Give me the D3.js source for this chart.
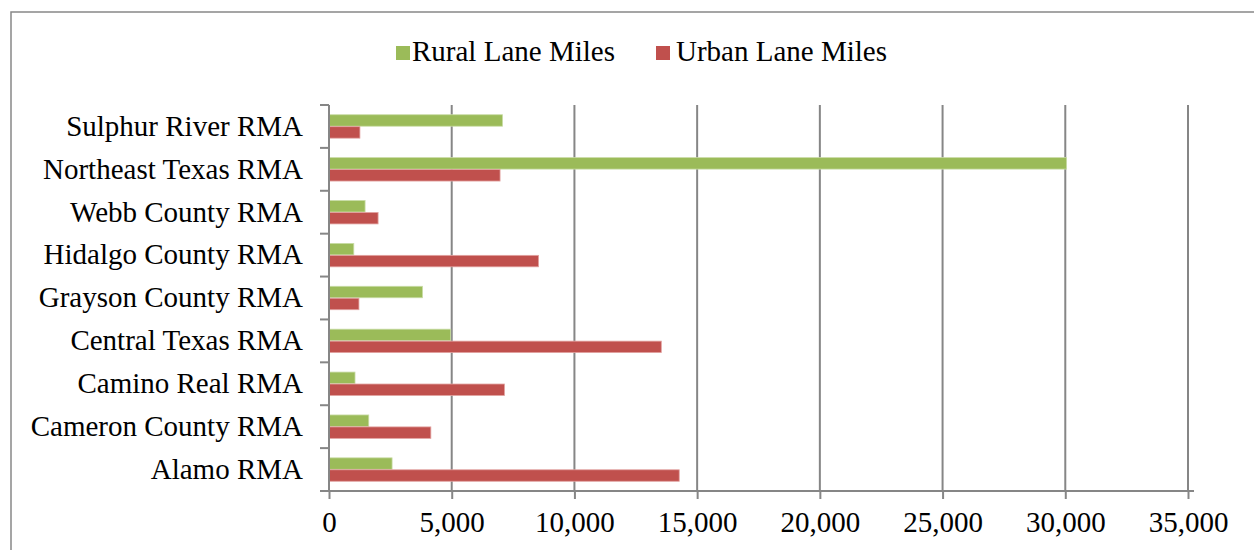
<!DOCTYPE html>
<html>
<head>
<meta charset="utf-8">
<script src="https://cdn.jsdelivr.net/npm/d3@7"></script>
<style>
  html, body { margin: 0; padding: 0; background: #fff; }
  svg { display: block; }
  text { font-family: "Liberation Serif", "Times New Roman", serif; fill: #000; }
</style>
</head>
<body>
<svg id="chart" width="1254" height="550"></svg>
<script>
const categories = ["Sulphur River RMA", "Northeast Texas RMA", "Webb County RMA", "Hidalgo County RMA",
  "Grayson County RMA", "Central Texas RMA", "Camino Real RMA", "Cameron County RMA", "Alamo RMA"];
const ruralLaneMiles = [7070, 30050, 1470, 1010, 3810, 4960, 1060, 1620, 2570];
const urbanLaneMiles = [1260, 6970, 2000, 8540, 1220, 13540, 7150, 4150, 14270];
const seriesNames = ["Rural Lane Miles", "Urban Lane Miles"];
const seriesColors = ["#9BBB59", "#C0504D"];
const xTicks = [0, 5000, 10000, 15000, 20000, 25000, 30000, 35000];

const svg = d3.select("#chart");
const mLeft = 329, mRight = 1188, mTop = 105, mBottom = 491;
const FONT = "Liberation Serif";

// frame
svg.append("rect").attr("x", 11).attr("y", 12).attr("width", 1260).attr("height", 560)
  .attr("fill", "none").attr("stroke", "#888").attr("stroke-width", 1.5);

const x = d3.scaleLinear().domain([0, 35000]).range([mLeft, mRight]);
const y = d3.scaleBand().domain(categories).range([mTop, mBottom]).paddingInner(0).paddingOuter(0);
const bw = y.bandwidth();
const sub = d3.scaleBand().domain([0, 1]).range([bw * 0.227, bw * 0.773]).paddingInner(0.04);

// gridlines
svg.append("g").selectAll("line").data(xTicks.filter(d => d > 0)).join("line")
  .attr("x1", d => x(d)).attr("x2", d => x(d)).attr("y1", mTop).attr("y2", mBottom)
  .attr("stroke", "#868686").attr("stroke-width", 2);

// bars
const data = categories.map((c, i) => ({ c, vals: [ruralLaneMiles[i], urbanLaneMiles[i]] }));
const groups = svg.append("g").selectAll("g").data(data).join("g")
  .attr("transform", d => `translate(0,${y(d.c)})`);
groups.selectAll("rect").data(d => d.vals.map((v, k) => ({ v, k }))).join("rect")
  .attr("x", x(0)).attr("y", d => sub(d.k))
  .attr("width", d => x(d.v) - x(0)).attr("height", sub.bandwidth())
  .attr("fill", d => seriesColors[d.k])
  .attr("stroke", d => d.k === 0 ? "#c9dca6" : "#e2a3a1").attr("stroke-width", 0.8);

// x axis
const xAxis = d3.axisBottom(x).tickValues(xTicks).tickFormat(d3.format(",")).tickSize(8).tickPadding(12);
const gx = svg.append("g").attr("transform", `translate(0,${mBottom})`).call(xAxis);
gx.attr("font-family", FONT);
gx.select(".domain").attr("d", `M${mLeft - 9},0H${mRight + 6}`).attr("stroke", "#868686").attr("stroke-width", 2);
gx.selectAll(".tick line").attr("stroke", "#868686").attr("stroke-width", 2);
gx.selectAll(".tick text").attr("font-size", 29).attr("font-family", FONT).attr("fill", "#000");

// y axis
const yAxis = d3.axisLeft(y).tickSize(0).tickPadding(26);
const gy = svg.append("g").attr("transform", `translate(${mLeft},0)`).call(yAxis);
gy.attr("font-family", FONT);
gy.select(".domain").attr("stroke", "#868686").attr("stroke-width", 2).attr("d", `M0,${mTop}V${mBottom}`);
gy.selectAll(".tick text").attr("font-size", 29).attr("font-family", FONT).attr("fill", "#000");
// category separator ticks
const sepY = categories.map(c => y(c));
svg.append("g").selectAll("line").data(sepY).join("line")
  .attr("x1", mLeft - 9).attr("x2", mLeft).attr("y1", d => d).attr("y2", d => d)
  .attr("stroke", "#868686").attr("stroke-width", 2);

// legend
const swatchX = [396, 656];
const labelX = [412, 676];
const lg = svg.append("g").selectAll("g").data(seriesNames).join("g");
lg.append("rect").attr("x", (d, i) => swatchX[i]).attr("y", 46).attr("width", 14).attr("height", 14)
  .attr("fill", (d, i) => seriesColors[i]);
lg.append("text").attr("x", (d, i) => labelX[i]).attr("y", 61).attr("font-size", 29)
  .attr("font-family", FONT).text(d => d);
</script>
</body>
</html>
